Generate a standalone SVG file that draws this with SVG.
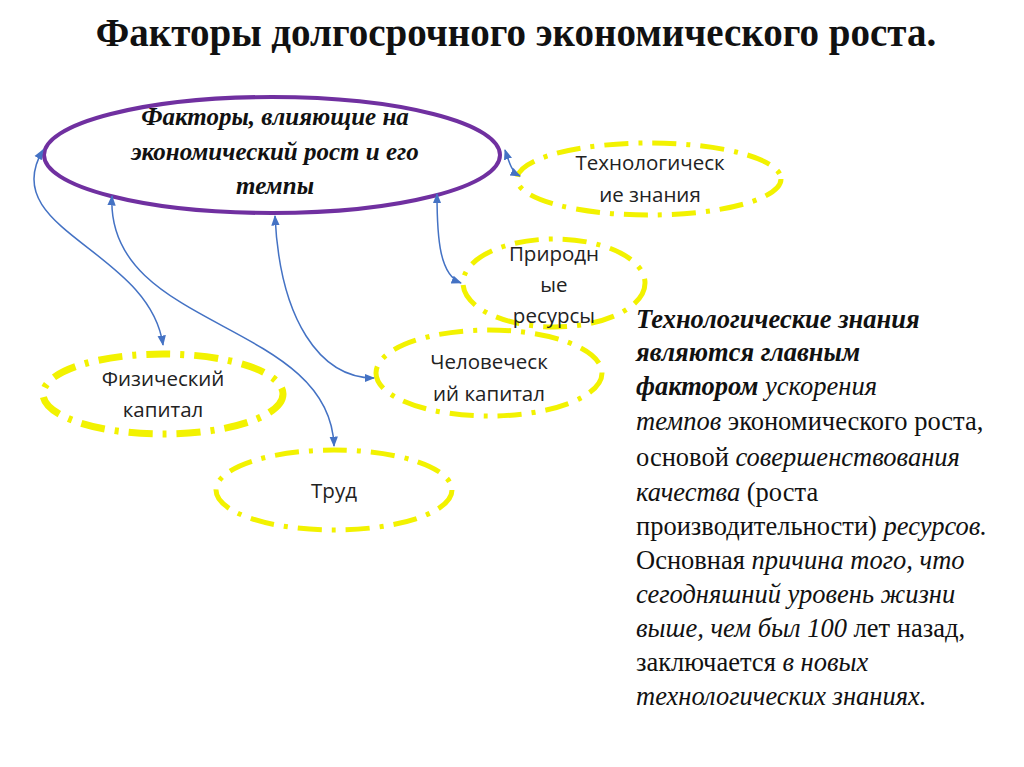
<svg xmlns="http://www.w3.org/2000/svg" width="1024" height="767" viewBox="0 0 1024 767">
<defs>
<marker id="a" viewBox="0 0 10 10" refX="9" refY="5" markerWidth="7" markerHeight="7" orient="auto-start-reverse"><path d="M0,1 L10,5 L0,9 z" fill="#4472C4"/></marker>
<style>
.y{fill:#fff;stroke:#F2F200;stroke-width:5;stroke-dasharray:24 10 4 10}
.t{font-family:"Open Sans","Liberation Sans",sans-serif;font-size:20.5px;fill:#222;text-anchor:middle}
.c{fill:none;stroke:#4472C4;stroke-width:1.5;marker-start:url(#a);marker-end:url(#a)}
.s{font-family:"Liberation Serif",serif;font-size:26.5px;fill:#111}
</style>
</defs>
<rect width="1024" height="767" fill="#fff"/>
<text x="516" y="46" text-anchor="middle" font-family="Liberation Serif,serif" font-size="39" font-weight="bold" fill="#111">Факторы долгосрочного экономического роста.</text>
<g id="main"><ellipse cx="272" cy="155" rx="228" ry="58" fill="#fff" stroke="#7030A0" stroke-width="4"/>
<g font-family="Liberation Serif,serif" font-size="25" font-weight="bold" font-style="italic" text-anchor="middle" fill="#111"><text x="275" y="125">Факторы, влияющие на</text><text x="275" y="160">экономический рост и его</text><text x="275" y="194">темпы</text></g></g>
<g id="tech"><ellipse class="y" cx="649" cy="179" rx="132" ry="36"/><text class="t" x="650" y="170">Технологическ</text><text class="t" x="650" y="202">ие знания</text></g>
<g id="nat"><ellipse class="y" cx="554" cy="283" rx="91" ry="44"/><text class="t" x="554" y="261">Природн</text><text class="t" x="554" y="292">ые</text><text class="t" x="554" y="323">ресурсы</text></g>
<g id="hum"><ellipse class="y" cx="489" cy="373" rx="113" ry="43"/><text class="t" x="489" y="369">Человеческ</text><text class="t" x="489" y="401">ий капитал</text></g>
<g id="phys"><ellipse class="y" cx="163" cy="394" rx="120" ry="40" style="stroke-width:7"/><text class="t" x="163" y="386">Физический</text><text class="t" x="163" y="417">капитал</text></g>
<g id="labor"><ellipse class="y" cx="334" cy="490" rx="118" ry="40"/><text class="t" x="334" y="498">Труд</text></g>
<g id="connectors">
<path class="c" d="M43,150 C-5,230 150,250 163,345"/>
<path class="c" d="M112,196 C105,330 330,320 334,446"/>
<path class="c" d="M275,216 C280,320 320,378 374,378"/>
<path class="c" d="M437,194 C437,240 440,275 461,283"/>
<path class="c" d="M505,150 C510,165 512,172 520,176"/>
</g>
<g class="s">
<text x="636" y="328" font-weight="bold" font-style="italic">Технологические знания</text>
<text x="636" y="361" font-weight="bold" font-style="italic">являются главным</text>
<text x="636" y="395"><tspan font-weight="bold" font-style="italic">фактором</tspan> <tspan font-style="italic">ускорения</tspan></text>
<text x="636" y="430"><tspan font-style="italic">темпов</tspan> экономического роста,</text>
<text x="636" y="466">основой <tspan font-style="italic">совершенствования</tspan></text>
<text x="636" y="501"><tspan font-style="italic">качества</tspan> (роста</text>
<text x="636" y="535">производительности) <tspan font-style="italic">ресурсов.</tspan></text>
<text x="636" y="569">Основная <tspan font-style="italic">причина того, что</tspan></text>
<text x="636" y="603" font-style="italic">сегодняшний уровень жизни</text>
<text x="636" y="637"><tspan font-style="italic">выше, чем был 100</tspan> лет назад,</text>
<text x="636" y="671">заключается <tspan font-style="italic">в новых</tspan></text>
<text x="636" y="705" font-style="italic">технологических знаниях.</text>
</g>
</svg>
